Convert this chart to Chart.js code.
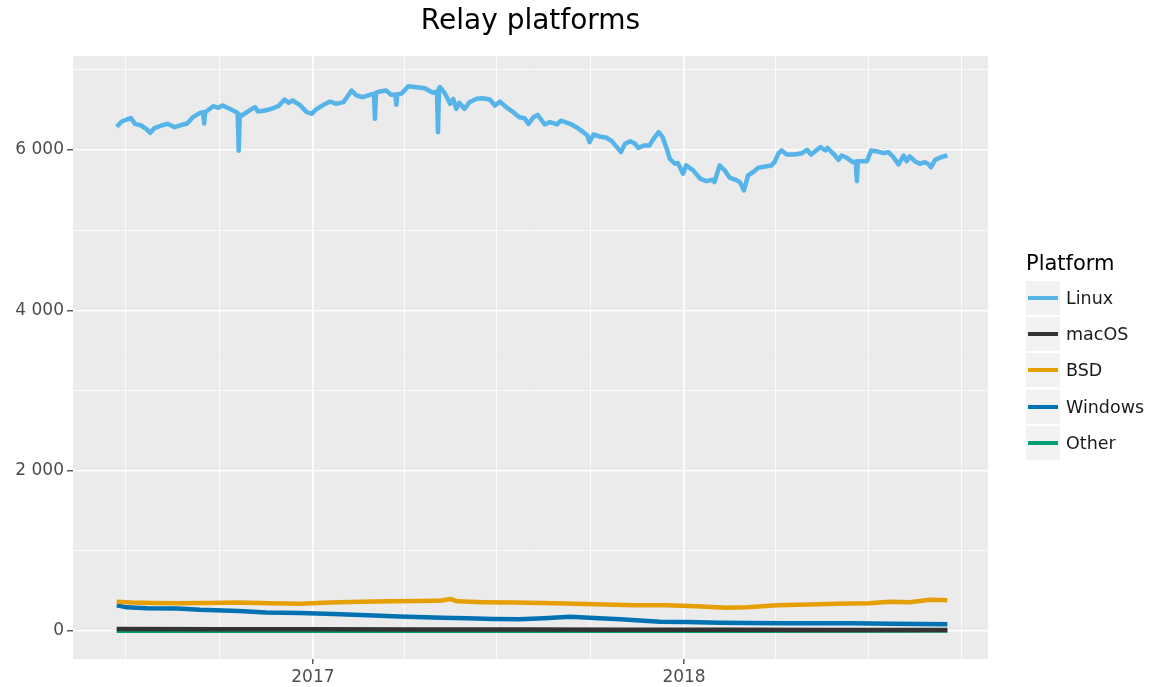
<!DOCTYPE html>
<html>
<head>
<meta charset="utf-8">
<title>Relay platforms</title>
<script src="https://cdn.jsdelivr.net/npm/chart.js@4.4.1/dist/chart.umd.min.js"></script>
<style>
  body { margin: 0; background: #fff; }
  #wrap { position: relative; width: 1153px; height: 687px; }
  #legend { position: absolute; left: 1026px; top: 248px; font-family: 'DejaVu Sans', sans-serif; }
  #legend .ttl { font-size: 21px; color: #000; height: 32px; line-height: 30px; }
  #legend .row { display: flex; align-items: center; height: 36.2px; }
  #legend .key { width: 34px; height: 34px; background: #F2F2F2; position: relative; margin-right: 6px; }
  #legend .key span { position: absolute; left: 2px; right: 2px; top: 15px; height: 4px; }
  #legend .lbl { font-size: 17.5px; color: #1a1a1a; }
</style>
</head>
<body>
<div id="wrap">
  <canvas id="chart" width="1153" height="687"></canvas>
  <div id="legend"></div>
</div>
<script>
// days are counted from the first observation
const startDate = '2016-06-22';

const linuxDays = [0, 5, 10, 14, 18, 24, 29, 33, 37, 44, 50, 57, 64, 69, 75, 82, 85, 86, 87, 88,
  95, 100, 104, 110, 118, 119, 120, 121, 123, 128, 133, 136, 139, 146, 152, 159, 165, 169, 173, 180,
  187, 192, 196, 203, 210, 216, 223, 231, 236, 242, 249, 253, 254, 255, 259, 265, 270, 274, 275, 276,
  280, 287, 295, 303, 311, 315, 316, 317, 318, 323, 328, 331, 334, 337, 342, 347, 354, 360, 367, 372,
  377, 383, 390, 396, 401, 405, 410, 414, 421, 426, 433, 437, 446, 452, 459, 463, 465, 469, 475, 482,
  487, 492, 496, 500, 505, 510, 513, 519, 524, 528, 533, 537, 541, 544, 549, 552, 557, 560, 567, 574,
  580, 586, 588, 593, 598, 603, 610, 613, 617, 621, 626, 631, 638, 644, 647, 651, 654, 659, 667, 674,
  679, 683, 692, 697, 699, 705, 710, 713, 718, 724, 727, 728, 729, 731, 738, 742, 747, 754, 759, 764,
  769, 774, 777, 780, 785, 790, 795, 798, 801, 805, 811, 817];
const linuxValues = [6290, 6355, 6380, 6397, 6326, 6305, 6264, 6214, 6272, 6305, 6326, 6284, 6314, 6326, 6409, 6463, 6471, 6330, 6478, 6480,
  6546, 6526, 6554, 6521, 6471, 6460, 5990, 6440, 6430, 6471, 6513, 6534, 6480, 6492, 6513, 6546, 6629, 6588, 6617, 6563,
  6471, 6451, 6505, 6560, 6604, 6575, 6596, 6741, 6679, 6658, 6688, 6700, 6388, 6715, 6729, 6741, 6688, 6690, 6563, 6695,
  6700, 6796, 6783, 6770, 6713, 6730, 6222, 6770, 6783, 6700, 6575, 6638, 6513, 6588, 6513, 6596, 6638, 6646, 6629, 6554,
  6604, 6534, 6471, 6409, 6397, 6326, 6409, 6438, 6318, 6347, 6318, 6367, 6326, 6284, 6222, 6181, 6097, 6193, 6168, 6152,
  6110, 6035, 5973, 6077, 6110, 6077, 6027, 6056, 6056, 6139, 6222, 6160, 6015, 5890, 5828, 5836, 5703, 5807, 5745, 5641,
  5611, 5629, 5599, 5807, 5745, 5654, 5620, 5599, 5495, 5682, 5724, 5778, 5794, 5807, 5848, 5960, 5994, 5944, 5944, 5960,
  6002, 5944, 6035, 5994, 6027, 5952, 5877, 5931, 5902, 5848, 5855, 5611, 5858, 5860, 5860, 5994, 5985, 5960, 5973, 5910,
  5819, 5931, 5860, 5919, 5860, 5828, 5848, 5828, 5786, 5877, 5910, 5931];

const macosDays = [0, 100, 200, 300, 400, 500, 600, 700, 817];
const macosValues = [24, 22, 21, 19, 18, 16, 15, 14, 13];

const bsdDays = [0, 15, 35, 60, 90, 120, 150, 180, 210, 240, 270, 300, 320, 328, 335, 360, 390, 420, 450, 480,
  510, 540, 570, 600, 620, 650, 680, 710, 740, 760, 780, 800, 817];
const bsdValues = [365, 355, 350, 345, 350, 355, 345, 340, 355, 365, 370, 375, 380, 400, 370, 360, 355, 350, 340, 330,
  320, 320, 310, 290, 295, 320, 330, 340, 345, 365, 360, 390, 385];

const windowsDays = [0, 10, 30, 60, 82, 120, 147, 180, 213, 240, 278, 320, 344, 370, 396, 420, 446, 470, 495, 534,
  560, 593, 620, 659, 690, 724, 760, 790, 817];
const windowsValues = [320, 295, 285, 280, 265, 250, 230, 225, 212, 200, 180, 165, 158, 150, 146, 160, 178, 162, 146, 116,
  112, 104, 100, 96, 98, 96, 92, 88, 83];

const otherDays = [0, 200, 400, 600, 817];
const otherValues = [3, 3, 3, 4, 5];

const seriesNames = ['Linux', 'macOS', 'BSD', 'Windows', 'Other'];
const seriesColors = ['#56B4E9', '#333333', '#E69F00', '#0072B2', '#009E73'];

const xTickDates = ['2016-07-01', '2016-10-01', '2017-01-01', '2017-04-01', '2017-07-01',
  '2017-10-01', '2018-01-01', '2018-04-01', '2018-07-01', '2018-10-01'];
const yTicks = [0, 1000, 2000, 3000, 4000, 5000, 6000, 7000];

const dayMs = 86400000;
function dayOf(s) {
  return Math.round((Date.parse(s + 'T00:00:00Z') - Date.parse(startDate + 'T00:00:00Z')) / dayMs);
}
const xTickDays = xTickDates.map(dayOf);
const majorDays = xTickDates.filter(d => d.endsWith('-01-01')).map(dayOf);

function pts(days, values) {
  return days.map((d, i) => ({ x: d, y: values[i] }));
}
function fmt(v) {
  return String(v).replace(/\B(?=(\d{3})+(?!\d))/g, ' ');
}

const allSeries = [
  [linuxDays, linuxValues],
  [macosDays, macosValues],
  [bsdDays, bsdValues],
  [windowsDays, windowsValues],
  [otherDays, otherValues]
];

const datasets = allSeries.map((s, i) => ({
  label: seriesNames[i],
  data: pts(s[0], s[1]),
  borderColor: seriesColors[i],
  backgroundColor: seriesColors[i],
  borderWidth: 4.5,
  pointRadius: 0,
  tension: 0,
  fill: false,
  borderJoinStyle: 'round'
}));

const panelBg = {
  id: 'panelBg',
  beforeDraw(chart) {
    const c = chart.ctx, a = chart.chartArea;
    c.save();
    c.fillStyle = '#fff';
    c.fillRect(0, 0, chart.width, chart.height);
    c.fillStyle = '#EBEBEB';
    c.fillRect(a.left, a.top, a.right - a.left, a.bottom - a.top);
    c.restore();
  }
};

const fontFamily = "'DejaVu Sans', sans-serif";

new Chart(document.getElementById('chart'), {
  type: 'line',
  data: { datasets: datasets },
  options: {
    responsive: false,
    animation: false,
    devicePixelRatio: 1,
    layout: { padding: { left: 0, right: 165, top: 0, bottom: 0 } },
    plugins: {
      legend: { display: false },
      tooltip: { enabled: false },
      title: {
        display: true,
        text: 'Relay platforms',
        fullSize: false,
        color: '#000',
        font: { family: fontFamily, size: 28, weight: 'normal' },
        padding: { top: 5, bottom: 17.4 }
      }
    },
    scales: {
      x: {
        type: 'linear',
        min: -43,
        max: 857,
        afterBuildTicks: s => { s.ticks = xTickDays.map(v => ({ value: v })); },
        afterFit: s => { s.height = 28; },
        ticks: {
          autoSkip: false,
          maxRotation: 0,
          padding: 3,
          color: '#4D4D4D',
          font: { family: fontFamily, size: 17 },
          callback: v => majorDays.includes(v) ? xTickDates[xTickDays.indexOf(v)].slice(0, 4) : ''
        },
        grid: {
          color: '#fff',
          lineWidth: ctx => majorDays.includes(ctx.tick.value) ? 1.6 : 0.8,
          tickLength: 5,
          tickWidth: 1.2,
          tickColor: ctx => majorDays.includes(ctx.tick.value) ? '#333' : 'rgba(0,0,0,0)'
        },
        border: { display: false }
      },
      y: {
        type: 'linear',
        min: -349,
        max: 7172,
        afterBuildTicks: s => { s.ticks = yTicks.map(v => ({ value: v })); },
        afterFit: s => { s.width = 73; },
        ticks: {
          autoSkip: false,
          padding: 3,
          color: '#4D4D4D',
          font: { family: fontFamily, size: 17 },
          callback: v => v % 2000 === 0 ? fmt(v) : ''
        },
        grid: {
          color: '#fff',
          lineWidth: ctx => ctx.tick.value % 2000 === 0 ? 1.6 : 0.8,
          tickLength: 6,
          tickWidth: 1.2,
          tickColor: ctx => ctx.tick.value % 2000 === 0 ? '#333' : 'rgba(0,0,0,0)'
        },
        border: { display: false }
      }
    }
  },
  plugins: [panelBg]
});

// legend in ggplot style
const legend = document.getElementById('legend');
const ttl = document.createElement('div');
ttl.className = 'ttl';
ttl.textContent = 'Platform';
legend.appendChild(ttl);
seriesNames.forEach((name, i) => {
  const row = document.createElement('div');
  row.className = 'row';
  const key = document.createElement('div');
  key.className = 'key';
  const line = document.createElement('span');
  line.style.background = seriesColors[i];
  key.appendChild(line);
  const lbl = document.createElement('div');
  lbl.className = 'lbl';
  lbl.textContent = name;
  row.appendChild(key);
  row.appendChild(lbl);
  legend.appendChild(row);
});
</script>
</body>
</html>
